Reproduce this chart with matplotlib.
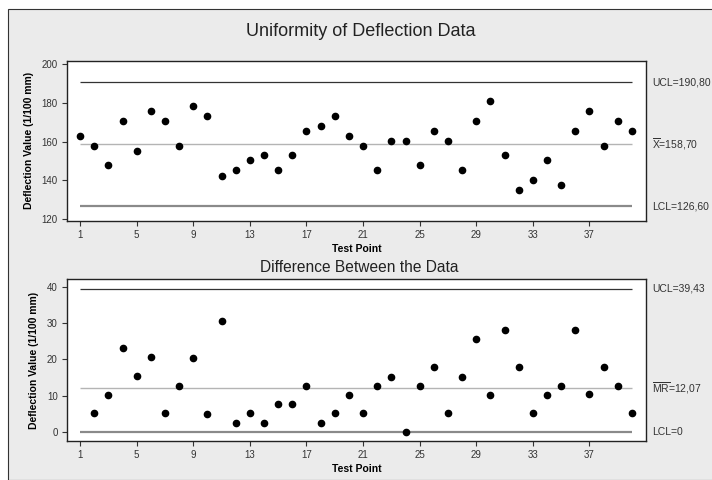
import numpy as np
import matplotlib
matplotlib.use('Agg')
import matplotlib.pyplot as plt
from matplotlib.patches import Rectangle

plt.rcParams['font.family'] = ['Liberation Sans', 'DejaVu Sans']
plt.rcParams['mathtext.fontset'] = 'custom'
plt.rcParams['mathtext.rm'] = 'Liberation Sans'

# Individual values (1/100 mm)
test_point = np.arange(1, 41)
deflection = [163.1, 157.9, 147.6, 170.7, 155.3, 175.9, 170.7, 157.9, 178.4, 173.3,
              142.4, 145.0, 150.2, 152.8, 145.0, 152.8, 165.5, 168.1, 173.3, 163.1,
              157.9, 145.0, 160.3, 160.3, 147.6, 165.5, 160.3, 145.0, 170.7, 181.0,
              152.8, 134.8, 140.0, 150.2, 137.4, 165.5, 175.9, 157.9, 170.7, 165.5]

# Moving range between consecutive points (starts at point 2)
mr_point = np.arange(2, 41)
moving_range = [5.2, 10.3, 23.0, 15.4, 20.6, 5.2, 12.8, 20.5, 5.1, 30.5,
                2.6, 5.2, 2.6, 7.8, 7.8, 12.7, 2.6, 5.2, 10.2, 5.2,
                12.8, 15.3, 0.0, 12.7, 17.9, 5.2, 15.3, 25.7, 10.3, 28.2,
                18.0, 5.2, 10.2, 12.8, 28.1, 10.4, 18.0, 12.8, 5.2]

# control limits
i_ucl, i_mean, i_lcl = 190.80, 158.70, 126.60
mr_ucl, mr_mean, mr_lcl = 39.43, 12.07, 0.0

xticks = [1, 5, 9, 13, 17, 21, 25, 29, 33, 37]

W, H = 712, 480
fig = plt.figure(figsize=(W / 100, H / 100), dpi=100)
fig.patch.set_facecolor('white')

# grey chart area with its border
bg = Rectangle((8 / W, 0), 1, 1 - 9 / H, transform=fig.transFigure,
               facecolor='#ebebeb', edgecolor='#333333', linewidth=0.8, zorder=-10)
fig.patches.append(bg)


def px_axes(left, top, right, bottom):
    return fig.add_axes([left / W, 1 - bottom / H, (right - left) / W, (bottom - top) / H])


ax1 = px_axes(66.7, 61, 646, 220.7)
ax2 = px_axes(66.7, 279.3, 646, 441)


def control_chart(ax, x, y, ucl, cl, lcl, ylim, yticks, labels):
    ax.set_facecolor('white')
    ax.hlines(ucl, 1, 40, color='#333333', linewidth=0.9, zorder=2)
    ax.hlines(cl, 1, 40, color='#b4b4b4', linewidth=1.0, zorder=2)
    ax.hlines(lcl, 1, 40, color='#8a8a8a', linewidth=1.6, zorder=2)
    ax.plot(x, y, 'o', color='black', markersize=4.5, zorder=3)
    ax.set_xlim(0.05, 41.0)
    ax.set_ylim(*ylim)
    ax.set_xticks(xticks)
    ax.set_yticks(yticks)
    ax.tick_params(labelsize=7, length=3.5, width=0.8, color='#333333',
                   labelcolor='#333333', pad=3)
    for s in ax.spines.values():
        s.set_linewidth(1.0)
        s.set_color('#222222')
    ax.set_xlabel('Test Point', fontsize=7.5, fontweight='bold', labelpad=3)
    ax.set_ylabel('Deflection Value (1/100 mm)', fontsize=7.5, fontweight='bold')
    for val, txt in zip((ucl, cl, lcl), labels):
        ax.annotate(txt, xy=(1, val), xycoords=('axes fraction', 'data'),
                    xytext=(4.5, 0), textcoords='offset points',
                    ha='left', va='center', fontsize=7.5, color='#333333',
                    annotation_clip=False)


control_chart(ax1, test_point, deflection, i_ucl, i_mean, i_lcl,
              (119.0, 201.7), [120, 140, 160, 180, 200],
              ['UCL=190,80', r'$\overline{\mathrm{X}}$=158,70', 'LCL=126,60'])
control_chart(ax2, mr_point, moving_range, mr_ucl, mr_mean, mr_lcl,
              (-2.4, 42.0), [0, 10, 20, 30, 40],
              ['UCL=39,43', r'$\overline{\mathrm{MR}}$=12,07', 'LCL=0'])

ax1.yaxis.set_label_coords(-0.057, 0.5)
ax2.yaxis.set_label_coords(-0.047, 0.5)

fig.text(361 / W, 1 - 31 / H, 'Uniformity of Deflection Data', ha='center', va='center',
         fontsize=13, color='#222222')
fig.text(359 / W, 1 - 267 / H, 'Difference Between the Data', ha='center', va='center',
         fontsize=11.2, color='#222222')

fig.savefig('out.png', dpi=100)
